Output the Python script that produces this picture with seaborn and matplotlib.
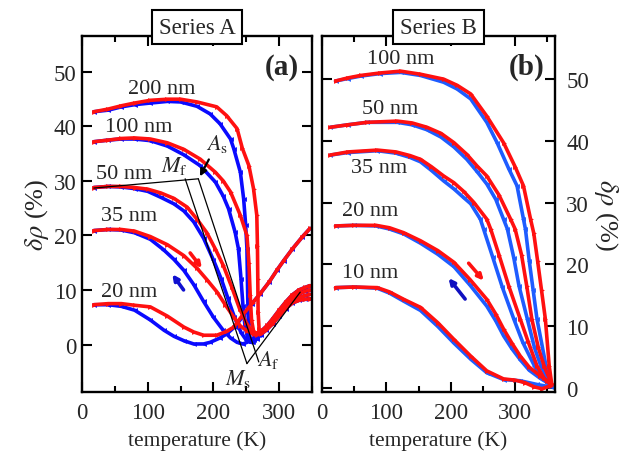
import matplotlib
matplotlib.use("Agg")
import matplotlib.pyplot as plt
import seaborn as sns
from matplotlib.ticker import MultipleLocator

# ---- Series A (left panel): temperature (K) / delta rho (%) ----
A200_heat_T = [18, 40, 60, 80, 104, 130, 150, 175, 205, 220, 236, 244, 254, 261, 266, 267, 267.5, 268, 269.5, 273,
               280, 290, 300, 310, 320, 330, 340, 347]
A200_heat = [42.7, 43.2, 43.8, 44.3, 44.8, 45.0, 45.0, 44.5, 43.6, 42.0, 39.6, 36.0, 32.8, 28.6, 23.7, 18.0, 12.0,
             6.0, 2.8, 2.0, 2.6, 3.8, 5.2, 6.6, 7.6, 8.1, 8.3, 8.4]
A200_cool_T = [18, 40, 60, 80, 104, 130, 150, 175, 195, 210, 226, 231, 241, 246, 249, 251, 252, 253, 256, 260,
               266, 272, 280, 290, 300, 310, 320, 330, 340, 347]
A200_cool = [42.7, 43.0, 43.6, 44.0, 44.3, 44.6, 44.5, 43.7, 42.3, 40.5, 37.7, 35.9, 31.6, 26.7, 22.0, 17.6, 10.0,
             4.0, 1.0, 0.5, 1.0, 1.8, 2.6, 3.8, 5.2, 6.6, 7.6, 8.1, 8.3, 8.4]

A100_heat_T = [18, 40, 60, 80, 104, 130, 155, 180, 203, 215, 226, 241, 251, 254, 256, 258, 261, 266, 272, 280,
               290, 300, 310, 320, 330, 340, 347]
A100_heat = [37.2, 37.5, 37.8, 37.9, 37.7, 37.0, 35.8, 34.0, 31.6, 30.0, 28.0, 23.7, 20.0, 15.0, 9.0, 4.5, 2.5,
             1.8, 2.2, 2.8, 4.1, 5.6, 6.9, 8.0, 8.6, 9.0, 9.2]
A100_cool_T = [18, 40, 60, 80, 104, 130, 155, 180, 203, 215, 223, 233, 238, 242, 245, 248, 252, 256, 262, 270,
               280, 290, 300, 310, 320, 330, 340, 347]
A100_cool = [37.2, 37.5, 37.7, 37.7, 37.4, 36.4, 34.8, 32.8, 29.8, 27.2, 24.9, 20.6, 17.6, 12.0, 7.0, 3.5, 1.2,
             0.4, 0.8, 1.8, 2.8, 4.1, 5.6, 6.9, 8.0, 8.6, 9.0, 9.2]

A50_heat_T = [18, 40, 60, 80, 100, 120, 140, 160, 175, 190, 203, 215, 228, 240, 250, 258, 265, 272, 280, 290,
              300, 310, 320, 330, 340, 347]
A50_heat = [28.8, 29.0, 29.0, 28.8, 28.5, 27.8, 26.8, 25.2, 23.0, 20.5, 17.5, 14.5, 10.5, 6.5, 4.0, 2.5, 2.0,
            2.3, 3.0, 4.4, 6.0, 7.4, 8.6, 9.3, 9.8, 10.0]
A50_cool_T = [18, 40, 60, 80, 100, 120, 140, 155, 170, 185, 200, 212, 222, 232, 242, 250, 258, 266, 272, 280,
              290, 300, 310, 320, 330, 340, 347]
A50_cool = [28.8, 29.0, 28.9, 28.6, 28.1, 27.0, 25.8, 24.5, 22.5, 19.5, 15.5, 12.0, 8.5, 5.0, 2.2, 0.8, 0.5,
            1.2, 2.0, 3.0, 4.4, 6.0, 7.4, 8.6, 9.3, 9.8, 10.0]

A35_heat_T = [18, 40, 60, 80, 104, 130, 155, 175, 190, 205, 218, 231, 241, 251, 261, 268, 275, 282, 290, 300,
              310, 320, 330, 340, 347]
A35_heat = [20.9, 21.1, 21.1, 20.8, 19.8, 18.3, 16.3, 14.0, 11.9, 9.7, 7.3, 5.0, 3.4, 2.5, 1.9, 2.2, 2.7, 3.5,
            4.7, 6.3, 7.8, 9.1, 10.0, 10.5, 10.8]
A35_cool_T = [18, 40, 60, 80, 104, 124, 140, 155, 170, 185, 200, 215, 226, 236, 245, 255, 265, 275, 282, 290,
              300, 310, 320, 330, 340, 347]
A35_cool = [20.9, 21.1, 21.0, 20.5, 19.3, 17.4, 15.6, 13.6, 11.0, 7.9, 5.0, 2.6, 1.2, 0.4, 0.1, 0.6, 1.6, 2.7,
            3.5, 4.7, 6.3, 7.8, 9.1, 10.0, 10.5, 10.8]

A20_heat_T = [18, 40, 60, 80, 104, 130, 155, 170, 185, 205, 220, 231, 245, 260, 271, 285, 297, 307, 320, 335, 347]
A20_heat = [7.3, 7.5, 7.5, 7.2, 6.9, 5.2, 3.2, 2.3, 1.7, 1.7, 2.4, 3.2, 5.5, 7.7, 9.3, 11.5, 13.7, 15.4, 17.5,
            19.7, 21.3]
A20_cool_T = [18, 40, 60, 80, 104, 125, 140, 155, 170, 185, 195, 210, 221, 233, 245, 258, 271, 285, 297, 307,
              320, 335, 347]
A20_cool = [7.3, 7.3, 7.0, 6.3, 4.5, 2.6, 1.5, 0.7, 0.1, 0.1, 0.4, 1.2, 2.0, 3.3, 5.2, 7.4, 9.3, 11.5, 13.7,
            15.4, 17.5, 19.7, 21.3]

# ---- Series B (right panel) ----
B100_heat_T = [21, 40, 60, 90, 122, 153, 189, 210, 231, 256, 282, 300, 313, 324, 329, 335, 341, 347, 353, 357]
B100_heat = [49.7, 50.2, 50.6, 51.0, 51.3, 50.8, 50.0, 49.0, 47.6, 44.0, 39.7, 35.8, 32.7, 27.3, 25.0, 20.5,
             15.8, 11.1, 3.5, 0.5]
B100_cool_T = [21, 40, 60, 90, 122, 153, 189, 210, 231, 256, 272, 290, 303, 313, 316, 322, 328, 334, 348, 356]
B100_cool = [49.7, 50.1, 50.5, 50.9, 51.1, 50.6, 49.5, 48.4, 46.8, 43.0, 39.7, 35.5, 32.7, 27.3, 25.7, 20.5,
             15.8, 11.1, 3.5, 0.3]

B50_heat_T = [13, 40, 70, 117, 140, 163, 185, 205, 225, 241, 256, 275, 293, 300, 310, 318, 326, 336, 345, 357]
B50_heat = [42.2, 42.6, 43.0, 43.2, 42.9, 42.2, 41.2, 39.7, 37.8, 35.9, 34.3, 31.2, 27.3, 25.7, 21.5, 16.5, 11.1,
            6.5, 3.5, 0.5]
B50_cool_T = [13, 40, 70, 117, 140, 163, 185, 205, 225, 241, 256, 270, 282, 288, 298, 306, 319, 330, 340, 356]
B50_cool = [42.2, 42.6, 43.0, 43.0, 42.6, 41.8, 40.6, 39.0, 37.0, 35.0, 33.0, 30.5, 27.3, 25.7, 21.0, 16.5, 11.1,
            6.5, 3.5, 0.3]

B35_heat_T = [13, 40, 86, 115, 137, 153, 170, 189, 205, 220, 236, 256, 262, 275, 290, 308, 320, 334, 345, 355]
B35_heat = [37.7, 38.2, 38.5, 38.2, 37.6, 37.0, 35.8, 34.3, 33.2, 31.8, 30.0, 27.3, 25.7, 21.5, 16.5, 11.1, 7.5,
            3.5, 1.5, 0.5]
B35_cool_T = [13, 40, 86, 115, 137, 153, 170, 189, 205, 220, 231, 246, 251, 265, 280, 298, 312, 330, 342, 355]
B35_cool = [37.7, 38.1, 38.4, 38.0, 37.3, 36.6, 35.2, 33.5, 32.2, 30.8, 29.8, 27.3, 25.7, 21.2, 16.3, 11.1, 7.3,
            3.5, 1.5, 0.3]

B20_T = [21, 50, 84, 105, 127, 153, 180, 205, 230, 256, 270, 282, 295, 308, 322, 339, 350, 357]
B20_heat = [26.2, 26.3, 26.3, 25.9, 25.1, 23.8, 22.2, 20.3, 17.5, 14.3, 11.9, 9.5, 7.2, 5.1, 3.3, 1.9, 1.0, 0.5]
B20_cool = [26.2, 26.3, 26.2, 25.7, 24.9, 23.4, 21.6, 19.6, 16.6, 13.2, 10.8, 8.4, 6.3, 4.5, 2.8, 1.5, 0.8, 0.3]

B10_heat_T = [21, 50, 86, 105, 127, 153, 180, 205, 231, 256, 282, 300, 315, 330, 342, 355]
B10_heat = [16.2, 16.3, 16.2, 15.5, 14.3, 13.0, 10.5, 7.8, 5.1, 2.7, 1.4, 1.2, 0.8, 0.1, -0.2, 0.3]
B10_cool_T = [21, 50, 86, 105, 127, 153, 180, 205, 231, 256, 282, 308, 334, 355]
B10_cool = [16.2, 16.3, 16.1, 15.3, 14.0, 12.5, 9.9, 7.2, 4.6, 2.4, 1.3, 1.1, 0.5, 0.1]

# thickness labels: (text, T, value)
A_labels = [("200 nm", 121, 47.0), ("100 nm", 86, 40.0), ("50 nm", 64, 31.3), ("35 nm", 71, 23.6),
            ("20 nm", 71, 9.8)]
B_labels = [("100 nm", 122, 53.3), ("50 nm", 106, 45.3), ("35 nm", 88, 35.7), ("20 nm", 74, 28.7),
            ("10 nm", 75, 18.7)]

RED = "#ff1010"
BLUE_A = "#0a0aff"
BLUE_B = "#1e5cff"

sns.set_theme(style="ticks")
plt.rcParams["font.family"] = ["Liberation Serif", "DejaVu Serif"]
plt.rcParams["mathtext.fontset"] = "stix"


def draw(ax, t, v, color, marker):
    sns.lineplot(x=t, y=v, ax=ax, color=color, lw=2.6, marker=marker, markersize=3.5,
                 markeredgewidth=0, estimator=None, sort=False)


def style_axes(ax, xmax, ymin, ymax):
    ax.set_xlim(0, xmax)
    ax.set_ylim(ymin, ymax)
    ax.xaxis.set_major_locator(MultipleLocator(100))
    ax.xaxis.set_minor_locator(MultipleLocator(50))
    ax.yaxis.set_major_locator(MultipleLocator(10))
    ax.tick_params(which="both", direction="in", top=True, right=True, width=1.5, labelsize=16.5, color="black")
    ax.tick_params(which="major", length=7)
    ax.tick_params(which="minor", length=4)
    ax.tick_params(axis="x", pad=7)
    for sp in ax.spines.values():
        sp.set_linewidth(1.7)
        sp.set_color("black")
    ax.set_xlabel("temperature (K)", fontsize=15.5, labelpad=5)


fig = plt.figure(figsize=(6.27, 4.6), dpi=100)
ax_a = fig.add_axes([0.1308, 0.1446, 0.3668, 0.775])
ax_b = fig.add_axes([0.5136, 0.1446, 0.3716, 0.775])

# Series A curves (cooling first, heating on top)
for t, v in [(A200_cool_T, A200_cool), (A100_cool_T, A100_cool), (A50_cool_T, A50_cool),
             (A35_cool_T, A35_cool), (A20_cool_T, A20_cool)]:
    draw(ax_a, t, v, BLUE_A, "<")
for t, v in [(A200_heat_T, A200_heat), (A100_heat_T, A100_heat), (A50_heat_T, A50_heat),
             (A35_heat_T, A35_heat), (A20_heat_T, A20_heat)]:
    draw(ax_a, t, v, RED, ">")

# Series B curves
for t, v in [(B100_cool_T, B100_cool), (B50_cool_T, B50_cool), (B35_cool_T, B35_cool),
             (B20_T, B20_cool), (B10_cool_T, B10_cool)]:
    draw(ax_b, t, v, BLUE_B, "<")
for t, v in [(B100_heat_T, B100_heat), (B50_heat_T, B50_heat), (B35_heat_T, B35_heat),
             (B20_T, B20_heat), (B10_heat_T, B10_heat)]:
    draw(ax_b, t, v, RED, ">")

style_axes(ax_a, 350, -8.8, 56.6)
style_axes(ax_b, 362, -0.8, 57)

ax_a.set_ylabel(r"$\delta\rho$ (%)", fontsize=19, labelpad=2)
ax_a.tick_params(axis="y", pad=4)
ax_b.yaxis.tick_right()
ax_b.tick_params(which="both", left=True, right=True)
ax_b.tick_params(axis="y", pad=8)
ax_b.yaxis.set_label_position("right")
ax_b.set_ylabel(r"$\delta\rho$ (%)", fontsize=19, rotation=-90, labelpad=22)

# transformation-temperature construction lines in panel (a)
construction = [((18, 177), (28.7, 30.4)), ((157, 251), (30.4, -3.5)),
                ((177, 269), (30.4, -3.2)), ((251, 332), (-3.5, 9.6))]
for xs, ys in construction:
    ax_a.plot(xs, ys, color="black", lw=0.9)
ax_a.annotate("", xy=(177.5, 30.4), xytext=(195, 34.4),
              arrowprops=dict(arrowstyle="-|>", color="black", lw=1.6, mutation_scale=10))
ax_a.text(140, 33, r"$M_\mathrm{f}$", fontsize=16, ha="center", va="center")
ax_a.text(206, 37, r"$A_\mathrm{s}$", fontsize=16, ha="center", va="center")
ax_a.text(237, -6.2, r"$M_\mathrm{s}$", fontsize=16, ha="center", va="center")
ax_a.text(283, -2.6, r"$A_\mathrm{f}$", fontsize=16, ha="center", va="center")

# heating / cooling direction arrows
arrow_kw = dict(arrowstyle="-|>", lw=2.6, mutation_scale=8)
ax_a.annotate("", xy=(185, 13.6), xytext=(162, 17.2), arrowprops=dict(color=RED, **arrow_kw))
ax_a.annotate("", xy=(135, 13.3), xytext=(157, 9.6), arrowprops=dict(color="#1010d0", **arrow_kw))
ax_b.annotate("", xy=(254, 17.0), xytext=(225, 20.5), arrowprops=dict(color=RED, **arrow_kw))
ax_b.annotate("", xy=(194, 18.1), xytext=(225, 14.0), arrowprops=dict(color="#1010c0", **arrow_kw))

for ax, labels in [(ax_a, A_labels), (ax_b, B_labels)]:
    for txt, tx, ty in labels:
        ax.text(tx, ty, txt, fontsize=16, ha="center", va="center")

ax_a.text(0.87, 0.915, "(a)", transform=ax_a.transAxes, fontsize=21, fontweight="bold",
          ha="center", va="center")
ax_b.text(0.876, 0.915, "(b)", transform=ax_b.transAxes, fontsize=21, fontweight="bold",
          ha="center", va="center")

for ax, title in [(ax_a, "Series A"), (ax_b, "Series B")]:
    ax.text(0.5, 1.025, title, transform=ax.transAxes, fontsize=16.5, ha="center", va="center",
            bbox=dict(boxstyle="square,pad=0.3", fc="white", ec="black", lw=1.5), zorder=10)

fig.savefig("out.png", dpi=100)
